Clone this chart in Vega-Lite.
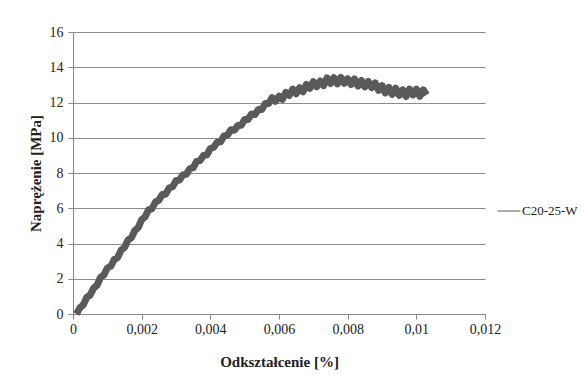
{
 "$schema": "https://vega.github.io/schema/vega-lite/v6.json",
 "width": 412, "height": 282,
 "autosize": {"type": "none"},
 "padding": {"left": 73, "top": 32, "right": 99, "bottom": 62},
 "background": "white",
 "config": {"view": {"stroke": null}, "font": "Liberation Serif",
  "axis": {"labelFont": "Liberation Serif", "titleFont": "Liberation Serif"},
  "legend": {"labelFont": "Liberation Serif"}},
 "data": {"values": [
  {"e":0.0001,"s":0.0},{"e":0.0002,"s":0.35},{"e":0.0003,"s":0.52},{"e":0.0004,"s":0.94},{"e":0.0005,"s":1.08},
  {"e":0.0006,"s":1.47},{"e":0.0007,"s":1.63},{"e":0.0008,"s":2.07},{"e":0.0009,"s":2.22},{"e":0.0010,"s":2.61},
  {"e":0.0011,"s":2.71},{"e":0.0012,"s":3.09},{"e":0.0013,"s":3.21},{"e":0.0014,"s":3.62},{"e":0.0015,"s":3.78},
  {"e":0.0016,"s":4.19},{"e":0.0017,"s":4.33},{"e":0.0018,"s":4.73},{"e":0.0019,"s":4.91},{"e":0.0020,"s":5.35},
  {"e":0.0021,"s":5.51},{"e":0.0022,"s":5.91},{"e":0.0023,"s":5.98},{"e":0.0024,"s":6.35},{"e":0.0025,"s":6.46},
  {"e":0.0026,"s":6.78},{"e":0.0027,"s":6.80},{"e":0.0028,"s":7.15},{"e":0.0029,"s":7.22},{"e":0.0030,"s":7.56},
  {"e":0.0031,"s":7.60},{"e":0.0032,"s":7.89},{"e":0.0033,"s":7.92},{"e":0.0034,"s":8.24},{"e":0.0035,"s":8.30},
  {"e":0.0036,"s":8.66},{"e":0.0037,"s":8.70},{"e":0.0038,"s":8.99},{"e":0.0039,"s":9.03},{"e":0.0040,"s":9.39},
  {"e":0.0041,"s":9.46},{"e":0.0042,"s":9.75},{"e":0.0043,"s":9.77},{"e":0.0044,"s":10.11},{"e":0.0045,"s":10.15},
  {"e":0.0046,"s":10.46},{"e":0.0047,"s":10.43},{"e":0.0048,"s":10.69},{"e":0.0049,"s":10.71},{"e":0.0050,"s":11.03},
  {"e":0.0051,"s":11.04},{"e":0.0052,"s":11.35},{"e":0.0053,"s":11.32},{"e":0.0054,"s":11.60},{"e":0.0055,"s":11.60},
  {"e":0.0056,"s":11.94},{"e":0.0057,"s":11.94},{"e":0.0058,"s":12.28},{"e":0.0059,"s":12.07},{"e":0.0060,"s":12.36},
  {"e":0.0061,"s":12.18},{"e":0.0062,"s":12.58},{"e":0.0063,"s":12.40},{"e":0.0064,"s":12.76},{"e":0.0065,"s":12.50},
  {"e":0.0066,"s":12.84},{"e":0.0067,"s":12.61},{"e":0.0068,"s":13.03},{"e":0.0069,"s":12.80},{"e":0.0070,"s":13.18},
  {"e":0.0071,"s":12.89},{"e":0.0072,"s":13.22},{"e":0.0073,"s":12.96},{"e":0.0074,"s":13.39},{"e":0.0075,"s":13.08},
  {"e":0.0076,"s":13.41},{"e":0.0077,"s":13.06},{"e":0.0078,"s":13.43},{"e":0.0079,"s":13.09},{"e":0.0080,"s":13.35},
  {"e":0.0081,"s":13.02},{"e":0.0082,"s":13.34},{"e":0.0083,"s":12.93},{"e":0.0084,"s":13.25},{"e":0.0085,"s":12.89},
  {"e":0.0086,"s":13.20},{"e":0.0087,"s":12.84},{"e":0.0088,"s":13.11},{"e":0.0089,"s":12.69},{"e":0.0090,"s":12.96},
  {"e":0.0091,"s":12.54},{"e":0.0092,"s":12.86},{"e":0.0093,"s":12.46},{"e":0.0094,"s":12.81},{"e":0.0095,"s":12.41},
  {"e":0.0096,"s":12.72},{"e":0.0097,"s":12.34},{"e":0.0098,"s":12.76},{"e":0.0099,"s":12.43},{"e":0.0100,"s":12.76},
  {"e":0.0101,"s":12.35},{"e":0.0102,"s":12.72},{"e":0.0103,"s":12.43}
 ]},
 "mark": {"type": "line", "strokeWidth": 7, "strokeJoin": "round", "color": "#5a5a5a"},
 "encoding": {
  "x": {"field": "e", "type": "quantitative",
   "scale": {"domain": [0, 0.012], "nice": false, "zero": false},
   "axis": {"values": [0, 0.002, 0.004, 0.006, 0.008, 0.01, 0.012],
    "labelExpr": "replace(format(datum.value, '.3~f'), '.', ',')",
    "title": "Odkształcenie [%]", "grid": false,
    "domainColor": "#888888", "tickColor": "#888888", "tickSize": 5,
    "labelFontSize": 14, "labelColor": "#222222", "labelPadding": 3, "labelFlush": false,
    "titleFontSize": 15, "titleFontWeight": "bold", "titleColor": "#222222", "titlePadding": 18}},
  "y": {"field": "s", "type": "quantitative",
   "scale": {"domain": [0, 16], "nice": false},
   "axis": {"values": [0, 2, 4, 6, 8, 10, 12, 14, 16],
    "title": "Naprężenie  [MPa]", "grid": true, "gridColor": "#8c8c8c", "gridWidth": 1,
    "domainColor": "#888888", "tickColor": "#888888", "tickSize": 5,
    "labelFontSize": 14, "labelColor": "#222222", "labelPadding": 5,
    "titleFontSize": 15, "titleFontWeight": "bold", "titleColor": "#222222", "titlePadding": 6}},
  "color": {"datum": "C20-25-W",
   "scale": {"range": ["#5a5a5a"]},
   "legend": {"orient": "none", "legendX": 424, "legendY": 167, "title": null,
    "symbolType": "stroke", "symbolSize": 529, "symbolStrokeWidth": 1,
    "labelFontSize": 13, "labelColor": "#222222", "labelOffset": 1}}
 }
}
